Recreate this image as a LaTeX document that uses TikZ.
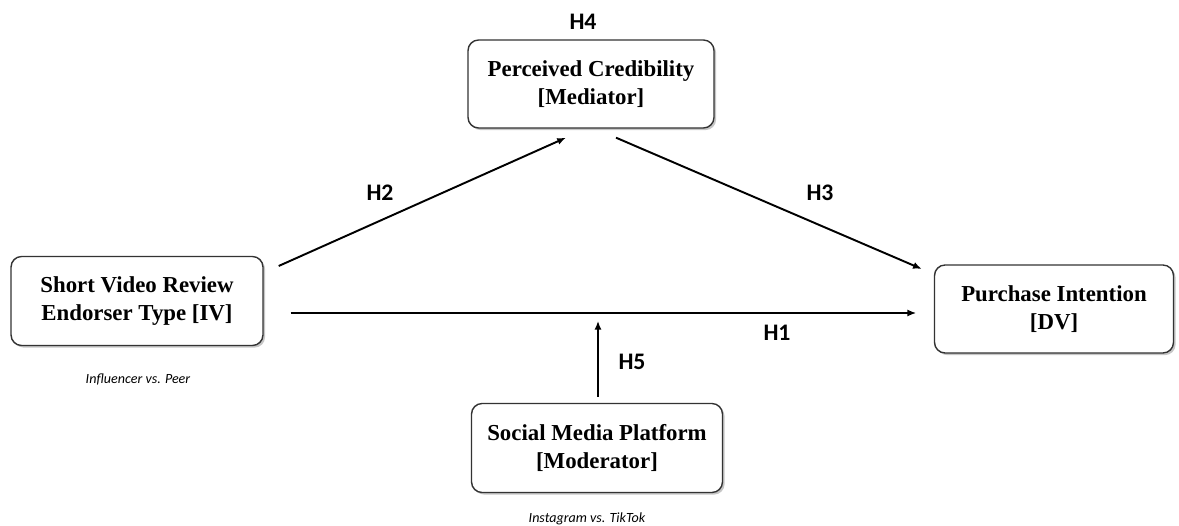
\documentclass[tikz,border=0pt]{standalone}
\usepackage{fontspec}
\setmainfont{Liberation Serif}
\newfontfamily\labelfont{Carlito}
\usetikzlibrary{arrows.meta,shadows,calc}

\tikzset{
	varbox/.style={draw=black!80, line width=0.8pt, rounded corners=6pt, fill=white, align=center,
		font=\fontsize{13}{15.5}\selectfont\bfseries,
		drop shadow={shadow xshift=1.2pt, shadow yshift=-1.2pt, opacity=0.45}},
	hyp/.style={font=\labelfont\fontsize{13.5}{15}\selectfont\bfseries},
	note/.style={font=\labelfont\fontsize{8}{9.5}\selectfont\itshape},
	arr/.style={->, >={Latex[length=5pt,width=4pt]}, line width=1.1pt}
}

\begin{document}
\begin{tikzpicture}[x=0.02cm,y=-0.02cm]
		\useasboundingbox (0,0) rectangle (1179,526);
		% variables
		\node [varbox, minimum width=5.04cm, minimum height=1.78cm] (iv) at (137,301) {Short Video Review\\Endorser Type [IV]};
		\node [varbox, minimum width=4.92cm, minimum height=1.76cm] (med) at (591,84) {Perceived Credibility\\{[Mediator]}};
		\node [varbox, minimum width=4.78cm, minimum height=1.76cm] (dv) at (1054,309) {Purchase Intention\\{[DV]}};
		\node [varbox, minimum width=5.02cm, minimum height=1.78cm] (mod) at (597,448) {Social Media Platform\\{[Moderator]}};
		
		\node [note] (ivnote) at (138,379) {Influencer vs. Peer};
		\node [note] (modnote) at (587,519) {Instagram vs. TikTok};
		
		% connector ends
		\coordinate (h2start) at ($(iv.east)+(15,-35)$);
		\coordinate (h2end) at ($(med.south)+(-25,9)$);
		\coordinate (h3start) at ($(med.south)+(25,9)$);
		\coordinate (h3end) at ($(dv.west)+(-12,-40)$);
		\coordinate (h1start) at ($(iv.east)+(27,12)$);
		\coordinate (h5end) at ($(mod.north)+(1,-82)$);
		
		\draw [arr] (h2start) -- (h2end);
		\draw [arr] (h3start) -- (h3end);
		\draw [arr, shorten >=10pt] (h1start) -- (h1start -| dv.west);
		\draw [arr, shorten <=3.5pt] (mod.north -| h5end) -- (h5end);
		
		% hypotheses
		\node [hyp] (h4) at (583,22) {H4};
		\node [hyp] (h2) at (380,193) {H2};
		\node [hyp] (h3) at (820,193) {H3};
		\node [hyp] (h1) at (777,333) {H1};
		\node [hyp] (h5) at (632,362) {H5};
\end{tikzpicture}
\end{document}
